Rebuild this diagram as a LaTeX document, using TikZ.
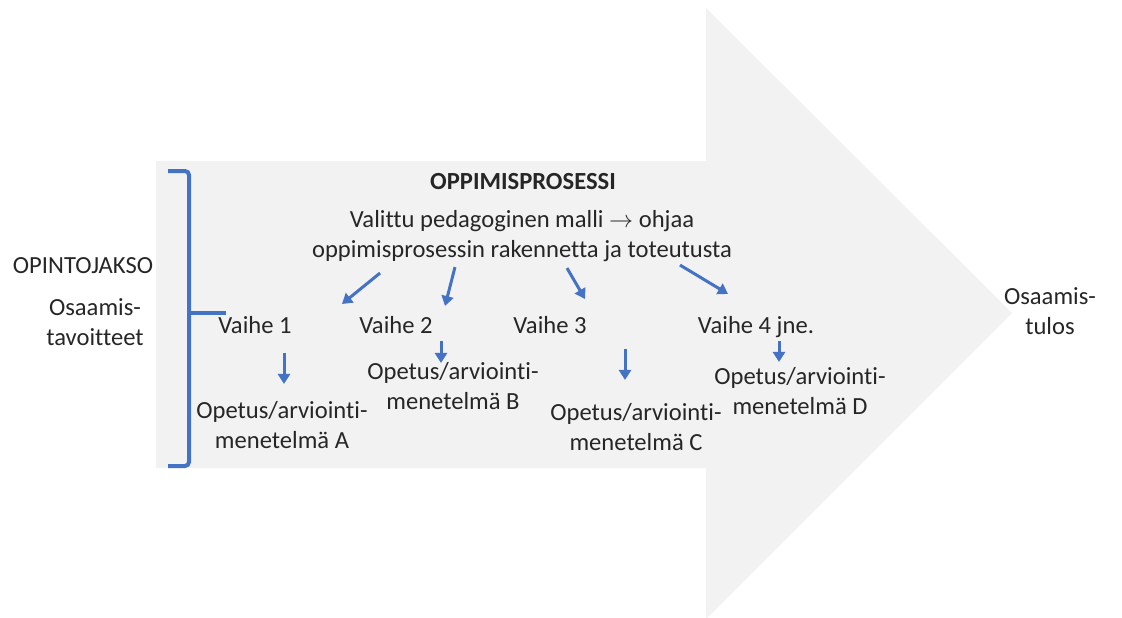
\documentclass[tikz,border=0pt]{standalone}
\usepackage{fontspec}
\setmainfont{Carlito}[Ligatures=NoCommon]
\usetikzlibrary{arrows.meta,calc}
\definecolor{arrowgray}{HTML}{F2F2F2}
\definecolor{linkblue}{HTML}{4472C4}
\definecolor{txtgray}{HTML}{262626}

\begin{document}
\begin{tikzpicture}[x=0.5pt,y=-0.5pt,
  txt/.style={inner sep=0pt, align=center, text=txtgray, font=\fontsize{12.3}{15}\selectfont},
  flow/.style={draw=linkblue, line width=1.5pt, -{Triangle[width=6pt,length=5pt]}}]
\useasboundingbox (0,0) rectangle (1122,617);
% big process arrow
\fill[arrowgray] (156,161) -- (706,161) -- (706,8) -- (1012,313) -- (706,619) -- (706,468) -- (156,468) -- cycle;
% bracket
\draw[linkblue, line width=2pt, rounded corners=2pt] (168,171) -- (189,171) -- (189,466) -- (168,466);
\draw[linkblue, line width=2pt] (189,313) -- (226,313);
\node[txt] (jakso) at (83,266) {OPINTOJAKSO};
\node[txt] (tavoite) at (95,322) {Osaamis-\\tavoitteet};
\node[txt, font=\fontsize{12.3}{15}\selectfont\bfseries] (prosessi) at (523,182) {OPPIMISPROSESSI};
\node[txt] (malli) at (522,236) {Valittu pedagoginen malli $\rightarrow$ ohjaa\\oppimisprosessin rakennetta ja toteutusta};
\node[txt] (v1) at (255,325) {Vaihe 1};
\node[txt] (v2) at (396,325) {Vaihe 2};
\node[txt] (v3) at (550,325) {Vaihe 3};
\node[txt] (v4) at (756,327) {Vaihe 4 jne.};
\node[txt] (mA) at (282,425) {Opetus/arviointi-\\menetelmä A};
\node[txt] (mB) at (453,386) {Opetus/arviointi-\\menetelmä B};
\node[txt] (mC) at (636,427) {Opetus/arviointi-\\menetelmä C};
\node[txt] (mD) at (800,391) {Opetus/arviointi-\\menetelmä D};
\node[txt] (tulos) at (1050,311) {Osaamis-\\tulos};
% model to phases
\draw[flow] ($(malli.south)+(-142,11)$) -- ($(v1.north)+(87,-12)$);
\draw[flow] ($(malli.south)+(-67,5)$) -- ($(v2.north)+(49,-10)$);
\draw[flow] ($(malli.south)+(45,6)$) -- ($(v3.north)+(35,-17)$);
\draw[flow] ($(malli.south)+(158,3)$) -- ($(v4.north)+(-28,-22)$);
% phases to methods
\draw[flow] ($(v1.south)+(29,19)$) -- ($(mA.north)+(2,-17)$);
\draw[flow] ($(v2.south)+(45,7)$) -- ($(mB.north)+(-12,1)$);
\draw[flow] ($(v3.south)+(75,15)$) -- ($(mC.north)+(-11,-23)$);
\draw[flow] ($(v4.south)+(23,3)$) -- ($(mD.north)+(-21,-5)$);
\end{tikzpicture}
\end{document}
